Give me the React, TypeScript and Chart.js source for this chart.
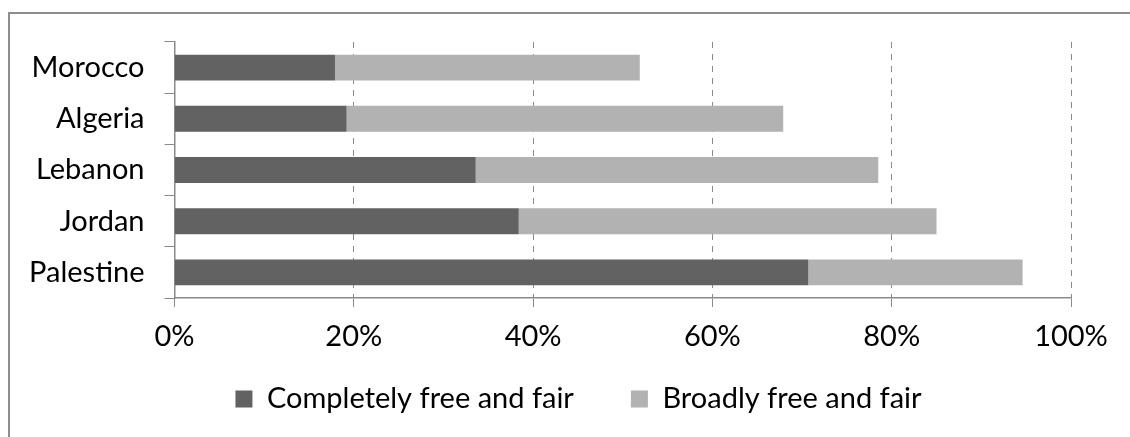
import React, { useEffect, useRef } from "react";
import { Chart, registerables } from "chart.js";

Chart.register(...registerables);

// Share of respondents rating the last national elections (%)
const countries = ["Morocco", "Algeria", "Lebanon", "Jordan", "Palestine"];
const completelyFree = [17.9, 19.2, 33.6, 38.4, 70.7];
const broadlyFree = [34.0, 48.7, 44.9, 46.6, 23.9];
const seriesNames = ["Completely free and fair", "Broadly free and fair"];
const xTickValues = [0, 20, 40, 60, 80, 100];

const FONT_FAMILY = "Lato, 'Noto Sans', sans-serif";
const FONT_SIZE = 29;
const AXIS_GREY = "#8a8a8a";

// Legend box placement inside the frame (top edge and horizontal shift)
const LEGEND_TOP = 327.5;
const LEGEND_SHIFT_X = 43;

const legendPlacement = {
  id: "legendPlacement",
  afterLayout(chart: any) {
    const lg = chart.legend;
    if (!lg) return;
    const h = lg.bottom - lg.top;
    lg.top = LEGEND_TOP;
    lg.bottom = LEGEND_TOP + h;
    lg.left += LEGEND_SHIFT_X;
    lg.right += LEGEND_SHIFT_X;
  },
};

export default function App() {
  const canvasRef = useRef<HTMLCanvasElement | null>(null);

  useEffect(() => {
    const canvas = canvasRef.current;
    if (!canvas) return;
    const font = { family: FONT_FAMILY, size: FONT_SIZE };

    const chart = new Chart(canvas, {
      type: "bar",
      data: {
        labels: countries,
        datasets: [
          {
            label: seriesNames[0],
            data: completelyFree,
            backgroundColor: "#626262",
            categoryPercentage: 1,
            barPercentage: 0.506,
          },
          {
            label: seriesNames[1],
            data: broadlyFree,
            backgroundColor: "#b2b2b2",
            categoryPercentage: 1,
            barPercentage: 0.506,
          },
        ],
      },
      options: {
        indexAxis: "y",
        responsive: false,
        animation: false,
        layout: { padding: { left: 0, right: 59, top: 42, bottom: -11 } },
        scales: {
          x: {
            stacked: true,
            min: 0,
            max: 100,
            afterBuildTicks: (scale: any) => {
              scale.ticks = xTickValues.map((v) => ({ value: v }));
            },
            afterFit: (scale: any) => {
              scale.height = 54;
            },
            ticks: {
              font,
              color: "#000",
              padding: 12,
              maxRotation: 0,
              callback: (v: any) => `${v}%`,
            },
            grid: {
              color: AXIS_GREY,
              lineWidth: 1,
              tickLength: 9,
              tickColor: AXIS_GREY,
              tickBorderDash: [],
            },
            border: { display: true, color: AXIS_GREY, width: 1.5, dash: [6, 6] },
          },
          y: {
            stacked: true,
            afterFit: (scale: any) => {
              scale.width = 174.5;
            },
            ticks: { font, color: "#000", padding: 20 },
            grid: {
              display: true,
              drawOnChartArea: false,
              offset: true,
              tickLength: 10,
              color: AXIS_GREY,
            },
            border: { display: true, color: AXIS_GREY, width: 1.5 },
          },
        },
        plugins: {
          legend: {
            position: "bottom",
            labels: {
              font,
              color: "#000",
              boxWidth: 17,
              boxHeight: 17,
              padding: 57,
            },
          },
          tooltip: { enabled: false },
        },
      },
      plugins: [legendPlacement],
    });

    return () => chart.destroy();
  }, []);

  return (
    <div style={{ position: "fixed", left: 0, top: 0, width: 1130, height: 437, background: "#fff" }}>
      <canvas ref={canvasRef} width={1130} height={437} style={{ position: "absolute", left: 0, top: 0 }} />
      <div
        style={{
          position: "absolute",
          left: 8,
          top: 12,
          width: 1140,
          height: 440,
          borderLeft: "2px solid #8e8e8e",
          borderTop: "2px solid #8e8e8e",
          pointerEvents: "none",
        }}
      />
    </div>
  );
}
